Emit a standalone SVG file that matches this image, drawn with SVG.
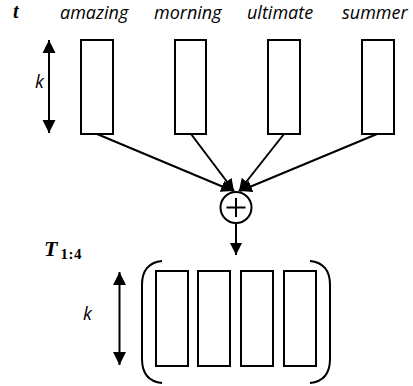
<svg xmlns="http://www.w3.org/2000/svg" width="413" height="386" viewBox="0 0 413 386">
<style>
.box{fill:#fff;stroke:#000;stroke-width:2}
.ln{fill:none;stroke:#000;stroke-width:2}
.word{font-family:"Open Sans",sans-serif;font-style:italic;font-size:18px;fill:#000}
.k{font-family:"Open Sans",sans-serif;font-style:italic;font-size:18px;fill:#000}
.math{font-family:"Liberation Serif",serif;font-style:italic;font-weight:bold;fill:#000}
</style>
<defs>
<marker id="big" markerUnits="userSpaceOnUse" markerWidth="14" markerHeight="14" refX="13" refY="6.5" orient="auto-start-reverse" viewBox="0 0 14 13">
<path d="M0,0 L13,6.5 L0,13 Z" fill="#000"/>
</marker>
<marker id="sm" markerUnits="userSpaceOnUse" markerWidth="12" markerHeight="12" refX="12" refY="6" orient="auto" viewBox="0 0 12 12">
<path d="M0,0 L12,6 L0,12 Z" fill="#000"/>
</marker>
</defs>
<g id="labels">
<text class="math" x="13" y="18" font-size="20">t</text>
<text class="word" x="60" y="19">amazing</text>
<text class="word" x="154" y="19">morning</text>
<text class="word" x="247" y="19">ultimate</text>
<text class="word" x="342" y="19">summer</text>
<text class="k" x="35" y="88">k</text>
<text class="math" x="44" y="256" font-size="22">T<tspan font-style="normal" font-size="15" letter-spacing="0.5" dx="3" dy="3">1:4</tspan></text>
<text class="k" x="83" y="320">k</text>
</g>
<g id="word-vectors">
<rect id="v1" class="box" x="81" y="40" width="32" height="94"/>
<rect id="v2" class="box" x="175" y="40" width="31" height="94"/>
<rect id="v3" class="box" x="268" y="40" width="32" height="94"/>
<rect id="v4" class="box" x="362" y="40" width="32" height="94"/>
</g>
<g id="sum">
<circle class="ln" cx="236" cy="207.5" r="15.5"/>
<path class="ln" d="M236,198 V217 M226.5,207.5 H245.5"/>
</g>
<g id="matrix">
<rect class="box" x="156" y="271" width="32" height="95"/>
<rect class="box" x="198" y="271" width="32" height="95"/>
<rect class="box" x="241" y="271" width="32" height="95"/>
<rect class="box" x="284" y="271" width="32" height="95"/>
<path class="ln" d="M162,261 Q142,263 142,285 V359 Q142,381 162,383"/>
<path class="ln" d="M310,261 Q330,263 330,285 V359 Q330,381 310,383"/>
</g>
<g id="connectors">
<line class="ln" x1="49" y1="40" x2="49" y2="133" marker-start="url(#big)" marker-end="url(#big)"/>
<line class="ln" x1="119.5" y1="272" x2="119.5" y2="365" marker-start="url(#big)" marker-end="url(#big)"/>
<line class="ln" x1="97" y1="134" x2="233" y2="191" marker-end="url(#sm)"/>
<line class="ln" x1="191" y1="134" x2="234" y2="191" marker-end="url(#sm)"/>
<line class="ln" x1="284" y1="134" x2="239" y2="191" marker-end="url(#sm)"/>
<line class="ln" x1="377" y1="134" x2="240" y2="191" marker-end="url(#sm)"/>
<line class="ln" x1="236" y1="223" x2="236" y2="255" marker-end="url(#sm)"/>
</g>
</svg>
